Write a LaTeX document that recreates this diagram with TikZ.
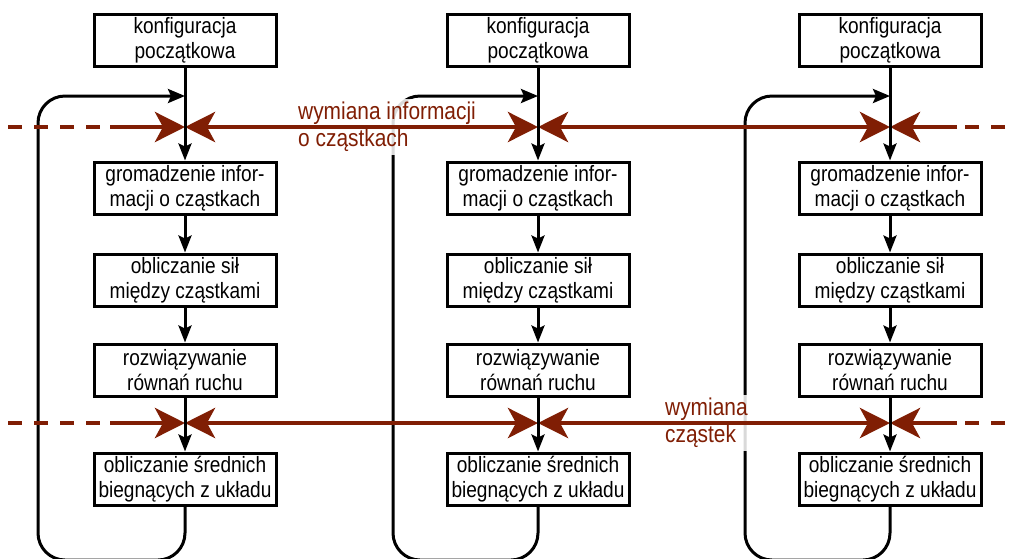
\documentclass[tikz,border=0pt]{standalone}
\usepackage{fontspec}
\setmainfont[FakeStretch=0.86]{Liberation Sans}
\usetikzlibrary{arrows.meta}
\definecolor{czerwony}{RGB}{128,30,4}
\begin{document}
\begin{tikzpicture}[x=1pt, y=-1pt,
  blok/.style={draw, line width=3pt, fill=white, minimum width=182pt, minimum height=52pt, align=center, inner sep=2pt, font=\fontsize{22.2}{25}\selectfont},
  strz/.style={line width=3pt, -{Stealth[length=17pt,width=13pt,inset=3pt]}},
  petla/.style={line width=3pt, rounded corners=27pt, -{Stealth[length=17pt,width=14pt,inset=3pt]}},
  wym/.style={czerwony, line width=4.5pt},
  przer/.style={czerwony, line width=4.5pt, dash pattern=on 14pt off 12pt},
  grot/.tip={Stealth[length=30pt,width=30pt,inset=8pt]},
  opis/.style={czerwony, align=left, fill=white, fill opacity=0.85, text opacity=1, inner sep=3pt, font=\fontsize{24.3}{27}\selectfont}]
\useasboundingbox (0,0) rectangle (1014,558);
\node[blok] (k0) at (185,40){konfiguracja\\początkowa};
\node[blok] (g0) at (185,188){gromadzenie infor-\\macji o cząstkach};
\node[blok] (f0) at (185,280){obliczanie sił\\między cząstkami};
\node[blok] (r0) at (185,370){rozwiązywanie\\równań ruchu};
\node[blok] (s0) at (185,479){obliczanie średnich\\biegnących z układu};
\node[blok] (k1) at (538,40){konfiguracja\\początkowa};
\node[blok] (g1) at (538,188){gromadzenie infor-\\macji o cząstkach};
\node[blok] (f1) at (538,280){obliczanie sił\\między cząstkami};
\node[blok] (r1) at (538,370){rozwiązywanie\\równań ruchu};
\node[blok] (s1) at (538,479){obliczanie średnich\\biegnących z układu};
\node[blok] (k2) at (890,40){konfiguracja\\początkowa};
\node[blok] (g2) at (890,188){gromadzenie infor-\\macji o cząstkach};
\node[blok] (f2) at (890,280){obliczanie sił\\między cząstkami};
\node[blok] (r2) at (890,370){rozwiązywanie\\równań ruchu};
\node[blok] (s2) at (890,479){obliczanie średnich\\biegnących z układu};
\coordinate (p0) at (185,96);
\coordinate (p1) at (538,96);
\coordinate (p2) at (890,96);
\coordinate (i0) at (185,127);
\coordinate (i1) at (538,127);
\coordinate (i2) at (890,127);
\coordinate (c0) at (185,423);
\coordinate (c1) at (538,423);
\coordinate (c2) at (890,423);
\draw[petla](s0.south) -- (185,560) -- (38,560) -- (38,96) -- (p0);
\draw[petla](s1.south) -- (538,560) -- (393,560) -- (393,96) -- (p1);
\draw[petla](s2.south) -- (890,560) -- (745,560) -- (745,96) -- (p2);
\node[opis, anchor=west] (w0) at (295,127){wymiana informacji\\o cząstkach};
\node[opis, anchor=west] (w1) at (662,423){wymiana\\cząstek};
\draw[przer](8,127) -- (110,127);
\draw[wym, -grot](110,127) -- (i0);
\draw[wym, grot-grot](i0) -- (i1);
\draw[wym, grot-grot](i1) -- (i2);
\draw[wym, -grot](957,127) -- (i2);
\draw[przer](1005,127) -- (957,127);
\draw[przer](8,423) -- (110,423);
\draw[wym, -grot](110,423) -- (c0);
\draw[wym, grot-grot](c0) -- (c1);
\draw[wym, grot-grot](c1) -- (c2);
\draw[wym, -grot](957,423) -- (c2);
\draw[przer](1005,423) -- (957,423);
\draw[strz](k0) -- (g0);
\draw[strz](g0) -- (f0);
\draw[strz](f0) -- (r0);
\draw[strz](r0) -- (s0);
\draw[strz](k1) -- (g1);
\draw[strz](g1) -- (f1);
\draw[strz](f1) -- (r1);
\draw[strz](r1) -- (s1);
\draw[strz](k2) -- (g2);
\draw[strz](g2) -- (f2);
\draw[strz](f2) -- (r2);
\draw[strz](r2) -- (s2);
\end{tikzpicture}
\end{document}
